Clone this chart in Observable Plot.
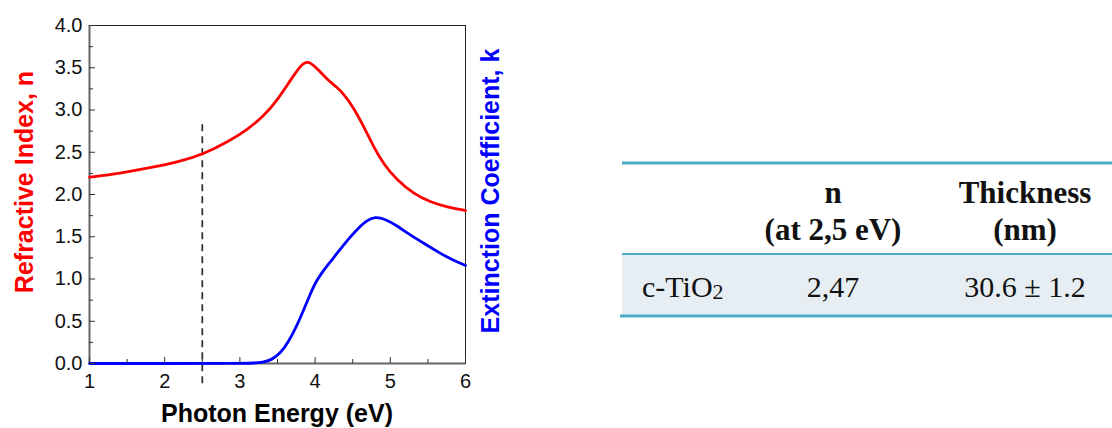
<!DOCTYPE html>
<html>
<head>
<meta charset="utf-8">
<script src="https://cdn.jsdelivr.net/npm/d3@7"></script>
<script src="https://cdn.jsdelivr.net/npm/@observablehq/plot@0.6"></script>
<style>
  html, body { margin: 0; padding: 0; background: #fff; }
  #page { position: relative; width: 1112px; height: 428px; overflow: hidden; background: #fff; }
  #chart { position: absolute; left: 0; top: 0; }
  .alabel { position: absolute; font-family: "Liberation Sans", Arial, sans-serif; font-weight: bold; font-size: 25px; white-space: nowrap; line-height: 25px; }
  #table { position: absolute; left: 0; top: 0; }
</style>
</head>
<body>
<div id="page">
  <div id="chart"></div>
  <div class="alabel" id="ylab" style="left:24px; top:182px; color:#ff0000; transform: translate(-50%,-50%) rotate(-90deg);">Refractive Index, n</div>
  <div class="alabel" id="y2lab" style="left:490px; top:191px; color:#0000ff; transform: translate(-50%,-50%) rotate(-90deg);">Extinction Coefficient, k</div>
  <div class="alabel" id="xlab" style="left:277px; top:401px; color:#000; transform: translateX(-50%);">Photon Energy (eV)</div>
  <svg id="table" width="1112" height="428"></svg>
</div>
<script>
// ---- data ----
const nEnergy = [1.0, 1.4, 1.83, 2.2, 2.5, 2.875, 3.1, 3.32, 3.5, 3.67, 3.81, 3.9, 4.03, 4.16, 4.29, 4.38, 4.51, 4.65, 4.78, 4.91, 5.09, 5.31, 5.53, 5.76, 6.0];
const nValues = [2.205, 2.25, 2.32, 2.39, 2.47, 2.64, 2.77, 2.93, 3.12, 3.35, 3.53, 3.59, 3.49, 3.36, 3.27, 3.19, 3.03, 2.80, 2.56, 2.36, 2.17, 2.01, 1.91, 1.85, 1.81];
const kEnergy = [1.0, 2.0, 3.0, 3.2, 3.3, 3.41, 3.54, 3.65, 3.76, 3.86, 3.94, 4.0, 4.07, 4.18, 4.29, 4.42, 4.56, 4.68, 4.8, 4.93, 5.09, 5.25, 5.45, 5.65, 5.82, 6.0];
const kValues = [0, 0, 0, 0.005, 0.015, 0.035, 0.12, 0.26, 0.45, 0.66, 0.83, 0.95, 1.05, 1.18, 1.30, 1.45, 1.59, 1.69, 1.74, 1.71, 1.63, 1.53, 1.42, 1.31, 1.23, 1.16];
const markerEnergy = [2.5];
const markerTop = 2.88;
const markerBottom = -0.24;
const xMajorTicks = [1, 2, 3, 4, 5, 6];
const xMinorTicks = [1.5, 2.5, 3.5, 4.5, 5.5];
const yMajorTicks = [0, 0.5, 1.0, 1.5, 2.0, 2.5, 3.0, 3.5, 4.0];
const yMinorTicks = [0.25, 0.75, 1.25, 1.75, 2.25, 2.75, 3.25, 3.75];

const tableHeaderTop = ["", "n", "Thickness"];
const tableHeaderBottom = ["", "(at 2,5 eV)", "(nm)"];
const tableMaterial = ["c-TiO", "2"];
const tableValues = ["2,47", "30.6 ± 1.2"];

const nData = nEnergy.map((x, i) => ({x, y: nValues[i]}));
const kData = kEnergy.map((x, i) => ({x, y: kValues[i]}));

const chart = Plot.plot({
  width: 520,
  height: 428,
  marginLeft: 89,
  marginRight: 55,
  marginTop: 25,
  marginBottom: 65,
  x: {domain: [1, 6], label: null},
  y: {domain: [0, 4], label: null},
  style: {fontFamily: "'Liberation Sans', Arial, sans-serif", fontSize: "20px", color: "#111", background: "transparent", overflow: "visible"},
  marks: [
    Plot.frame({stroke: "#222", strokeWidth: 1}),
    Plot.ruleX([1], {stroke: "#666", strokeWidth: 2}),
    Plot.ruleY([0], {stroke: "#666", strokeWidth: 2}),
    Plot.ruleX(markerEnergy, {y1: markerBottom, y2: markerTop, stroke: "#333", strokeWidth: 1.8, strokeDasharray: "7,5"}),
    Plot.line(nData, {x: "x", y: "y", stroke: "#ff0000", strokeWidth: 2.8, curve: "basis"}),
    Plot.line(kData, {x: "x", y: "y", stroke: "#0000ff", strokeWidth: 2.8, curve: "basis"}),
    Plot.axisX(xMajorTicks, {tickSize: -6, tickPadding: 16, fontSize: 20, tickFormat: d => d3.format("d")(d), label: null, stroke: "#333"}),
    Plot.axisX(xMinorTicks, {tickSize: -4, tickFormat: () => "", label: null, stroke: "#333"}),
    Plot.axisY(yMajorTicks, {tickSize: -6, tickPadding: 13, fontSize: 20, tickFormat: d => d3.format(".1f")(d), label: null, stroke: "#333"}),
    Plot.axisY(yMinorTicks, {tickSize: -4, tickFormat: () => "", label: null, stroke: "#333"})
  ]
});
document.getElementById("chart").appendChild(chart);

// ---- table ----
const svg = d3.select("#table");
const lineColor = "#4bacc6";
const colCenters = [null, 833, 1025];
svg.append("rect").attr("x", 622).attr("y", 255).attr("width", 490).attr("height", 60).attr("fill", "#e7eef3");
svg.append("rect").attr("x", 622).attr("y", 161.5).attr("width", 490).attr("height", 3).attr("fill", lineColor);
svg.append("rect").attr("x", 622).attr("y", 253).attr("width", 490).attr("height", 2).attr("fill", lineColor);
svg.append("rect").attr("x", 620).attr("y", 314.5).attr("width", 492).attr("height", 3).attr("fill", lineColor);

const serif = "'Liberation Serif', 'Times New Roman', serif";
[1, 2].forEach(i => {
  svg.append("text").attr("x", colCenters[i]).attr("y", 203).attr("text-anchor", "middle")
    .attr("font-family", serif).attr("font-weight", "bold").attr("font-size", 31).attr("fill", "#111")
    .text(tableHeaderTop[i]);
  svg.append("text").attr("x", colCenters[i]).attr("y", 240).attr("text-anchor", "middle")
    .attr("font-family", serif).attr("font-weight", "bold").attr("font-size", 31).attr("fill", "#111")
    .text(tableHeaderBottom[i]);
});
const mat = svg.append("text").attr("x", 642).attr("y", 297)
  .attr("font-family", serif).attr("font-size", 30).attr("fill", "#111");
mat.append("tspan").text(tableMaterial[0]);
mat.append("tspan").attr("font-size", 22).attr("dy", 2).text(tableMaterial[1]);
tableValues.forEach((v, j) => {
  svg.append("text").attr("x", colCenters[j + 1]).attr("y", 297).attr("text-anchor", "middle")
    .attr("font-family", serif).attr("font-size", 30).attr("fill", "#111").text(v);
});
</script>
</body>
</html>
